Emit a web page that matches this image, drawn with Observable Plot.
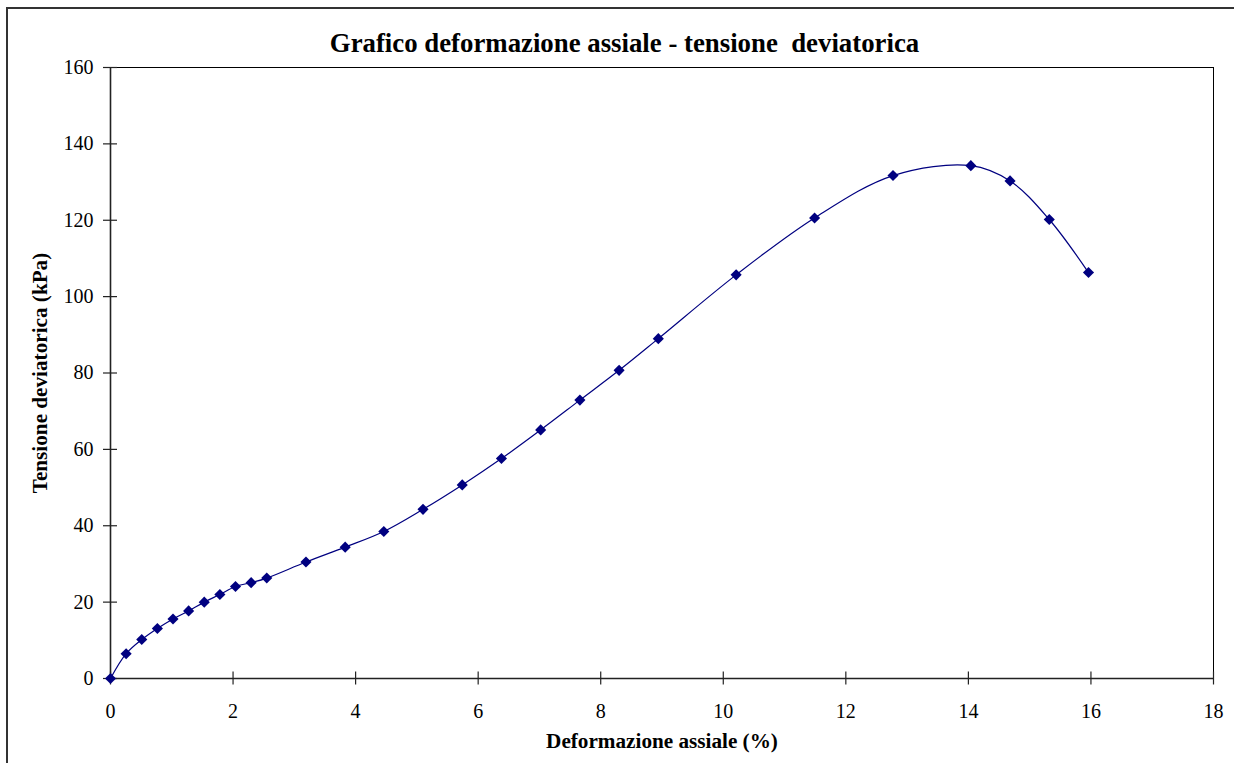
<!DOCTYPE html>
<html>
<head>
<meta charset="utf-8">
<script src="https://cdn.jsdelivr.net/npm/d3@7"></script>
<script src="https://cdn.jsdelivr.net/npm/@observablehq/plot@0.6"></script>
<style>
  html, body { margin: 0; padding: 0; background: #fff; }
  #wrap { position: relative; width: 1234px; height: 763px; overflow: hidden; background: #fff; }
  #border { position: absolute; left: 6px; top: 7px; width: 1300px; height: 800px; border: 2px solid #333; box-sizing: border-box; pointer-events: none; }
  #chart { position: absolute; left: 0; top: 0; }
  #chart svg text { font-family: 'Liberation Serif', 'Times New Roman', serif; }
</style>
</head>
<body>
<div id="wrap"><div id="border"></div><div id="chart"></div></div>
<script>
const title = "Grafico deformazione assiale - tensione  deviatorica";
const xLabel = "Deformazione assiale (%)";
const yLabel = "Tensione deviatorica (kPa)";

const strain = [0, 0.255, 0.51, 0.765, 1.02, 1.275, 1.53, 1.785, 2.04, 2.295, 2.55,
  3.19, 3.83, 4.46, 5.10, 5.74, 6.38, 7.02, 7.66, 8.30, 8.94, 10.21, 11.49, 12.77,
  14.04, 14.68, 15.32, 15.96];
const stress = [0, 6.5, 10.2, 13.1, 15.6, 17.7, 20.0, 22.0, 24.1, 25.1, 26.3,
  30.5, 34.4, 38.5, 44.3, 50.7, 57.6, 65.1, 72.9, 80.7, 89.0, 105.7, 120.6, 131.7,
  134.3, 130.3, 120.2, 106.3];

const xTicks = [0, 2, 4, 6, 8, 10, 12, 14, 16, 18];
const yTicks = [0, 20, 40, 60, 80, 100, 120, 140, 160];

const data = strain.map((x, i) => ({x, y: stress[i]}));
const navy = "#000080";
const serif = "'Liberation Serif', 'Times New Roman', serif";

const chart = Plot.plot({
  width: 1234,
  height: 763,
  marginLeft: 110,
  marginRight: 21,
  marginTop: 67,
  marginBottom: 85,
  x: {domain: [0, 18]},
  y: {domain: [0, 160]},
  style: {fontFamily: serif, fontSize: "20px", background: "transparent", color: "#000", overflow: "visible"},
  marks: [
    Plot.frame({stroke: "#000", strokeWidth: 1}),
    Plot.ruleY([0], {stroke: "#222", strokeWidth: 1.6}),
    Plot.ruleX([0], {stroke: "#222", strokeWidth: 1.6}),
    Plot.axisX({ticks: xTicks, tickSize: 13, dy: -6.5, text: null, label: null, stroke: "#222", strokeWidth: 1.2}),
    Plot.axisY({ticks: yTicks, tickSize: 14, dx: 7, text: null, label: null, stroke: "#222", strokeWidth: 1.2}),
    Plot.axisX({ticks: xTicks, tickSize: 0, tickPadding: 25, label: null, tickFormat: d => String(d), fill: "#000", fontFamily: serif, fontSize: 20}),
    Plot.axisY({ticks: yTicks, tickSize: 0, tickPadding: 17, label: null, tickFormat: d => String(d), fill: "#000", fontFamily: serif, fontSize: 20}),
    Plot.line(data, {x: "x", y: "y", curve: "catmull-rom", stroke: navy, strokeWidth: 1.2}),
    Plot.dot(data, {x: "x", y: "y", symbol: "diamond2", r: 5, fill: navy, stroke: "none"}),
    Plot.text([title], {frameAnchor: "top", dx: -37.5, dy: -24, lineAnchor: "middle", fontWeight: "bold", fontSize: 26.8, fontFamily: serif, fill: "#000"}),
    Plot.text([xLabel], {frameAnchor: "bottom", dy: 63, lineAnchor: "middle", fontWeight: "bold", fontSize: 21.2, fontFamily: serif, fill: "#000"}),
    Plot.text([yLabel], {frameAnchor: "left", dx: -70, rotate: -90, lineAnchor: "middle", textAnchor: "middle", fontWeight: "bold", fontSize: 21.2, fontFamily: serif, fill: "#000"})
  ]
});
document.getElementById("chart").appendChild(chart);
</script>
</body>
</html>
